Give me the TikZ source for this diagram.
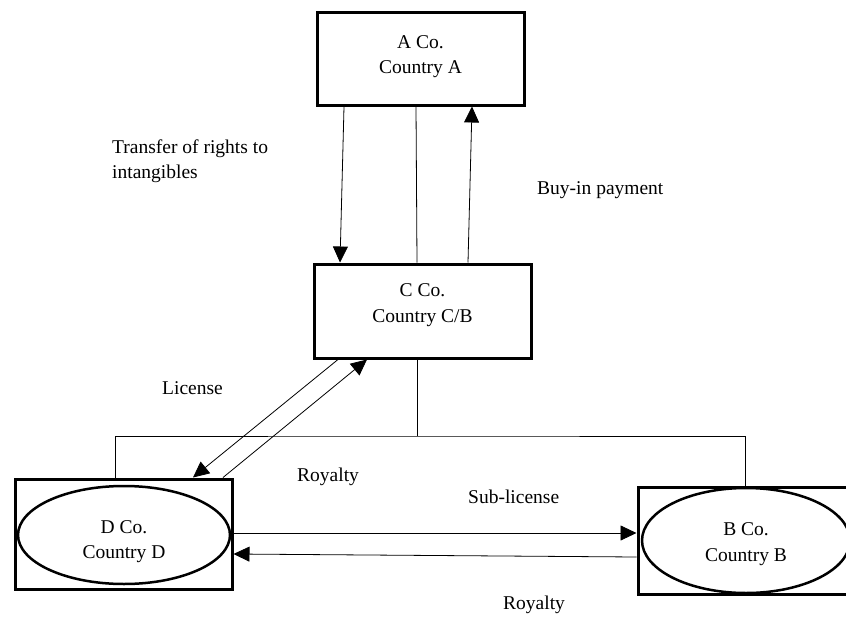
\documentclass[tikz,border=0pt]{standalone}
\usepackage{fontspec}
\setmainfont{Liberation Serif}
\usepackage{tikz}
\usetikzlibrary{arrows.meta, shapes.geometric}
\tikzstyle{chart} = [x = 1pt, y = -1pt]
\newcommand{\chartFont}{\fontsize{19.5}{25.5}\selectfont}
\tikzstyle{entityBox} = [draw, line width = 3pt, inner sep = 0pt]
\tikzstyle{entityOval} = [draw, ellipse, line width = 2.5pt, inner sep = 0pt]
\tikzstyle{entityText} = [font = \chartFont, align = center, inner sep = 0pt]
\tikzstyle{flowText} = [font = \chartFont, align = left, anchor = west, inner sep = 0pt]
\tikzstyle{linkLine} = [line width = .8pt]
\tikzstyle{flowArrow} = [linkLine, -{Triangle[length = 16pt, width = 15pt]}]

\begin{document}
\begin{tikzpicture}[chart]
\useasboundingbox (0,0) rectangle (846,616);
% companies
\node [entityBox, minimum width = 207pt, minimum height = 93pt, label = {[entityText, yshift = 2pt]center:{A Co.\\Country A}}] (aCo) at (420.5,58.5) {};
\node [entityBox, minimum width = 217pt, minimum height = 94pt, label = {[entityText, yshift = 6pt]center:{C Co.\\Country C/B}}] (cCo) at (422.5,311) {};
\node [entityBox, minimum width = 217pt, minimum height = 110pt] (dCo) at (123.5,534) {};
\node [entityOval, minimum width = 212pt, minimum height = 98pt, label = {[entityText, yshift = -6.5pt]center:{D Co.\\Country D}}] (dOval) at (124,535) {};
\node [entityBox, minimum width = 214pt, minimum height = 107pt] (bCo) at (745,540.5) {};
\node [entityOval, minimum width = 208pt, minimum height = 105pt, label = {[entityText, yshift = -3.5pt]center:{B Co.\\Country B}}] (bOval) at (746,540.5) {};
% A Co. and C Co.
\draw [flowArrow] ([xshift = -76.5pt]aCo.south) -- ([xshift = -82.5pt]cCo.north);
\draw [linkLine] ([xshift = -4.5pt]aCo.south) -- ([xshift = -5.5pt]cCo.north);
\draw [flowArrow] ([xshift = 45.5pt]cCo.north) -- ([xshift = 51.5pt]aCo.south);
\node [flowText] (transferText) at (112,161) {Transfer of rights to\\intangibles};
\node [flowText] (buyInText) at (537,190) {Buy-in payment};
% C Co. and D Co.
\draw [flowArrow] ([xshift = -84.5pt]cCo.south) -- ([xshift = 69.5pt]dCo.north);
\draw [flowArrow] ([xshift = 99.5pt]dCo.north) -- ([xshift = -55.5pt]cCo.south);
\node [flowText] (licenseText) at (162,388) {License};
\node [flowText] (royaltyText) at (297,477) {Royalty};
% group line
\coordinate (treeJoint) at (417,436);
\draw [linkLine] ([xshift = -5.5pt]cCo.south) -- (treeJoint);
\draw [linkLine] ([xshift = -8.5pt]dCo.north) |- (treeJoint) -| (bCo.north);
% D Co. and B Co.
\draw [flowArrow] ([yshift = 1pt]dCo.east) -- ([yshift = 1pt]dCo.east -| bCo.west);
\draw [flowArrow] ([yshift = -16.5pt]bCo.west) -- ([yshift = -20pt]dCo.east);
\node [flowText] (subLicenseText) at (468,497) {Sub-license};
\node [flowText] (royaltyBackText) at (503,605) {Royalty};
\end{tikzpicture}
\end{document}
